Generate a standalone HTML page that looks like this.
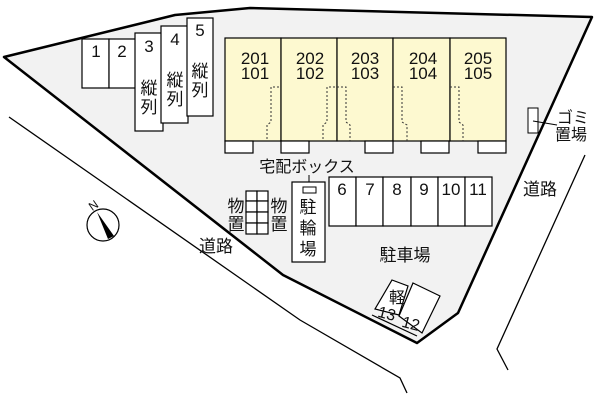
<!DOCTYPE html>
<html><head><meta charset="utf-8"><style>
body{margin:0;background:#fff}
svg{display:block}
text{font-family:"Liberation Sans","Noto Sans CJK JP",sans-serif;fill:#111}
</style></head><body>
<svg width="600" height="400" viewBox="0 0 600 400">
<polygon points="4,57 175,15 250,8 592,17 458,313 417,343 283,275" fill="#f2f2f2" stroke="#000" stroke-width="2.5" stroke-linejoin="round"/>
<polyline points="9,117 300,320 400,378 407,393" fill="none" stroke="#000" stroke-width="1.3"/>
<polyline points="585,155 497,349 508,370" fill="none" stroke="#000" stroke-width="1.3"/>
<g fill="#fff" stroke="#000" stroke-width="1.2">
<rect x="82" y="39" width="27" height="49"/><rect x="109" y="39" width="27" height="49"/>
<rect x="135" y="33" width="28" height="98"/><rect x="161" y="26" width="27" height="97"/><rect x="187" y="18" width="26" height="98"/>
</g>
<g font-size="17" text-anchor="middle">
<text x="96" y="57">1</text><text x="122" y="57">2</text><text x="149" y="52">3</text><text x="175" y="45">4</text><text x="200" y="36">5</text>
<text x="149" y="94">縦</text><text x="149" y="113">列</text>
<text x="175" y="86">縦</text><text x="175" y="105">列</text>
<text x="200" y="77">縦</text><text x="200" y="96">列</text>
</g>
<g stroke="#000" stroke-width="1.2" fill="#fdf9d0">
<rect x="225" y="38" width="56" height="103"/><rect x="281" y="38" width="56" height="103"/><rect x="337" y="38" width="56" height="103"/><rect x="393" y="38" width="57" height="103"/><rect x="450" y="38" width="56" height="103"/>
</g>
<g fill="#fff" stroke="#000" stroke-width="1.2">
<rect x="225" y="141" width="28" height="12"/><rect x="281" y="141" width="28" height="12"/><rect x="365" y="141" width="28" height="12"/><rect x="421" y="141" width="28" height="12"/><rect x="478" y="141" width="28" height="12"/>
</g>
<g fill="none" stroke="#333" stroke-width="1" stroke-dasharray="2,2">
<polyline points="279,87 271,87 271,122 267,125 267,141"/>
<polyline points="335,87 327,87 327,122 323,125 323,141"/>
<polyline points="337,87 346,87 346,122 350,125 350,141"/>
<polyline points="393,87 402,87 402,122 407,125 407,141"/>
<polyline points="450,87 459,87 459,122 463,125 463,141"/>
</g>
<g font-size="17" text-anchor="middle">
<text x="255" y="64">201</text><text x="255" y="79">101</text>
<text x="310" y="64">202</text><text x="310" y="79">102</text>
<text x="365" y="64">203</text><text x="365" y="79">103</text>
<text x="423" y="64">204</text><text x="423" y="79">104</text>
<text x="478" y="64">205</text><text x="478" y="79">105</text>
</g>
<text x="307" y="172" font-size="16" text-anchor="middle">宅配ボックス</text>
<line x1="309" y1="175" x2="309" y2="186" stroke="#000"/>
<rect x="292" y="182" width="33" height="80" fill="#fff" stroke="#000" stroke-width="1.2"/>
<rect x="303" y="187" width="13" height="6" fill="#fff" stroke="#000"/>
<g font-size="17" text-anchor="middle"><text x="308" y="213">駐</text><text x="308" y="234">輪</text><text x="308" y="255">場</text></g>
<g fill="#fff" stroke="#000" stroke-width="1.2">
<rect x="329" y="177" width="27" height="49"/><rect x="356" y="177" width="27" height="49"/><rect x="383" y="177" width="28" height="49"/><rect x="411" y="177" width="27" height="49"/><rect x="438" y="177" width="27" height="49"/><rect x="465" y="177" width="27" height="49"/>
</g>
<g font-size="17" text-anchor="middle">
<text x="342" y="195">6</text><text x="370" y="195">7</text><text x="397" y="195">8</text><text x="424" y="195">9</text><text x="451" y="195">10</text><text x="478" y="195">11</text>
</g>
<text x="405" y="261" font-size="17" text-anchor="middle">駐車場</text>
<g fill="#fff" stroke="#000" stroke-width="1.2">
<rect x="246" y="191" width="11" height="10"/><rect x="257" y="191" width="11" height="10"/>
<rect x="246" y="201" width="11" height="11"/><rect x="257" y="201" width="11" height="11"/>
<rect x="246" y="212" width="11" height="11"/><rect x="257" y="212" width="11" height="11"/>
<rect x="246" y="223" width="11" height="11"/><rect x="257" y="223" width="11" height="11"/>
</g>
<g font-size="17" text-anchor="middle"><text x="236" y="212">物</text><text x="236" y="230">置</text><text x="279" y="212">物</text><text x="279" y="230">置</text></g>
<polygon points="392,280 408,286 399,315 375,309" fill="#fff" stroke="#000" stroke-width="1.2"/>
<polygon points="413,283 440,296 422,333 399,316" fill="#fff" stroke="#000" stroke-width="1.2"/>
<line x1="372" y1="315" x2="417" y2="336" stroke="#000" stroke-width="1.2"/>
<text x="397" y="303" font-size="16" text-anchor="middle">軽</text>
<text x="387" y="319" font-size="16" text-anchor="middle" transform="rotate(15 387 313)">13</text>
<text x="411" y="329" font-size="16" text-anchor="middle" transform="rotate(15 411 323)">12</text>
<rect x="528" y="108" width="10" height="25" fill="#fff" stroke="#000"/>
<line x1="533" y1="121" x2="557" y2="125" stroke="#000"/>
<g font-size="16"><text x="557" y="123">ゴミ</text><text x="555" y="140">置場</text></g>
<text x="216" y="252" font-size="17" text-anchor="middle">道路</text>
<text x="540" y="195" font-size="17" text-anchor="middle">道路</text>
<circle cx="103" cy="225" r="16" fill="#fff" stroke="#000" stroke-width="1.2"/>
<polygon points="97,212 114,236 108,239" fill="#000"/>
<text x="90" y="212" font-size="12" transform="rotate(-35 90 208)">N</text>
</svg>
</body></html>
